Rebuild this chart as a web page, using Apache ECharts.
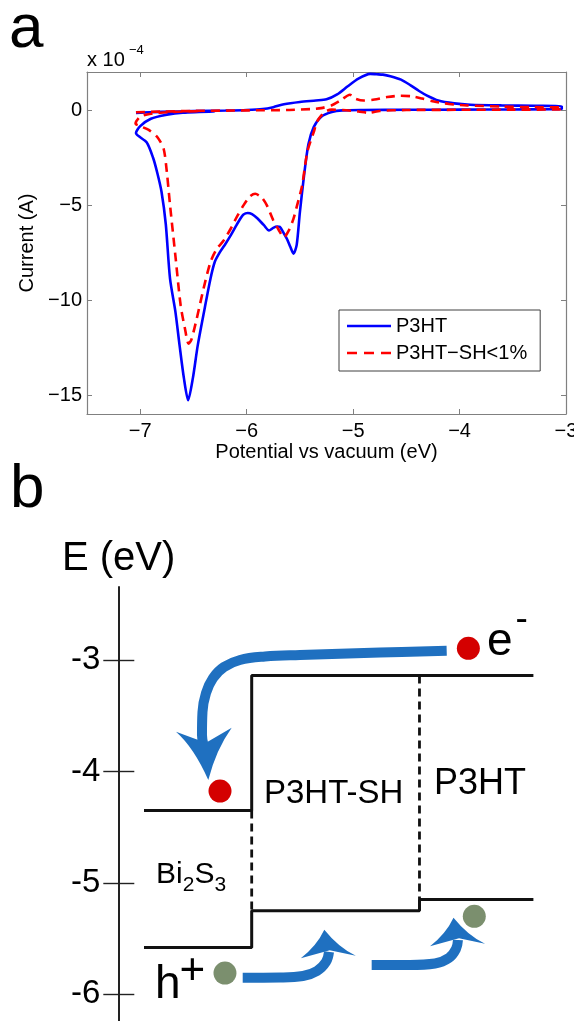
<!DOCTYPE html>
<html>
<head>
<meta charset="utf-8">
<script src="https://cdn.jsdelivr.net/npm/echarts@6/dist/echarts.min.js"></script>
<style>
  html, body { margin: 0; padding: 0; background: #fff; }
  #chart { width: 574px; height: 1021px; }
</style>
</head>
<body>
<div id="chart"></div>
<script>
// ---- panel a: cyclic voltammetry (current in units of 1e-4 A) ----
const p3htCurve = [
    [-7.04, -0.15], [-6.8, -0.1], [-6.5, -0.06], [-6.2, -0.03], [-6.0, 0.0], [-5.85, 0.05],
    [-5.75, 0.15], [-5.65, 0.3], [-5.5, 0.42], [-5.35, 0.5], [-5.25, 0.56], [-5.15, 0.82],
    [-5.05, 1.25], [-4.95, 1.65], [-4.84, 1.9], [-4.78, 1.88], [-4.72, 1.86], [-4.65, 1.78],
    [-4.55, 1.6], [-4.46, 1.3], [-4.38, 1.0], [-4.31, 0.77], [-4.2, 0.5], [-4.05, 0.35],
    [-3.9, 0.28], [-3.6, 0.24], [-3.3, 0.22], [-3.04, 0.2],
    [-3.04, 0.05], [-3.5, 0.03], [-4.0, 0.02], [-4.5, 0.01], [-4.9, 0.0], [-5.1, -0.02],
    [-5.2, -0.1], [-5.3, -0.35], [-5.37, -0.9], [-5.42, -1.8], [-5.46, -3.4], [-5.5, -5.37],
    [-5.53, -7.1], [-5.56, -7.56], [-5.59, -7.2], [-5.62, -6.8], [-5.65, -6.5], [-5.69, -6.15],
    [-5.715, -6.13], [-5.75, -6.2], [-5.79, -6.34], [-5.84, -6.05], [-5.9, -5.7], [-5.95, -5.48],
    [-5.99, -5.42], [-6.03, -5.5], [-6.06, -5.72], [-6.1, -6.1], [-6.15, -6.6], [-6.2, -7.05],
    [-6.25, -7.47], [-6.3, -8.0], [-6.34, -8.88], [-6.4, -10.6], [-6.46, -12.4], [-6.505, -14.1],
    [-6.55, -15.28], [-6.59, -14.1], [-6.63, -12.4], [-6.67, -10.6], [-6.72, -8.88], [-6.76, -6.0],
    [-6.8, -4.3], [-6.84, -3.3], [-6.88, -2.5], [-6.94, -1.7], [-7.04, -1.21],
    [-7.0, -0.85], [-6.9, -0.46], [-6.75, -0.25], [-6.6, -0.14], [-6.3, -0.07]
];
const p3htShCurve = [
    [-7.04, -0.12], [-6.8, -0.08], [-6.5, -0.05], [-6.0, -0.02], [-5.6, 0.0], [-5.4, 0.05],
    [-5.3, 0.1], [-5.2, 0.25], [-5.12, 0.5], [-5.03, 0.8], [-4.98, 0.6], [-4.9, 0.5],
    [-4.8, 0.55], [-4.68, 0.68], [-4.55, 0.75], [-4.45, 0.72], [-4.35, 0.6], [-4.24, 0.45],
    [-4.1, 0.32], [-3.93, 0.24], [-3.6, 0.18], [-3.3, 0.15], [-3.04, 0.14],
    [-3.04, 0.03], [-3.5, 0.02], [-4.0, 0.01], [-4.5, 0.0], [-4.75, -0.05], [-4.85, -0.15],
    [-4.95, -0.08], [-5.1, 0.0], [-5.2, 0.02], [-5.25, -0.05], [-5.3, -0.3], [-5.34, -0.63],
    [-5.37, -1.16], [-5.43, -2.2], [-5.48, -4.0], [-5.53, -5.1], [-5.56, -5.72], [-5.6, -6.3],
    [-5.65, -6.7], [-5.7, -6.3], [-5.75, -5.8], [-5.81, -5.02], [-5.86, -4.6], [-5.92, -4.41],
    [-5.97, -4.55], [-6.03, -5.02], [-6.09, -5.6], [-6.15, -6.25], [-6.22, -6.9], [-6.28, -7.3],
    [-6.34, -8.0], [-6.405, -9.4], [-6.47, -11.0], [-6.52, -12.1], [-6.546, -12.3], [-6.58, -11.5],
    [-6.62, -10.3], [-6.67, -7.65], [-6.72, -5.0], [-6.75, -3.26], [-6.78, -2.04], [-6.84, -1.42],
    [-6.92, -1.05], [-7.0, -0.85], [-7.044, -0.72],
    [-7.0, -0.35], [-6.9, -0.2], [-6.7, -0.1], [-6.4, -0.06]
];
const xTicksA = [-7, -6, -5, -4, -3];
const yTicksA = [-15, -10, -5, 0];

// ---- panel b: energy levels (eV) ----
const levelTicks = [-6, -5, -4, -3];
const layerEdges = [0.62, 3.22, 7.27, 10.02]; // Bi2S3 | P3HT-SH | P3HT
const lumo = [-4.35, -3.14, -3.14];
const homo = [-5.58, -5.25, -5.15];
const electrons = [[8.45, -2.895], [2.455, -4.176]];
const holes = [[2.575, -5.81], [8.593, -5.30]];
const electronArrow = [[7.927, -2.917], [6.317, -2.933], [4.386, -2.955], [3.541, -2.969], [2.937, -3.0],
    [2.551, -3.063], [2.286, -3.162], [2.117, -3.296], [2.032, -3.467], [2.02, -3.673], [2.056, -3.763]];
const holeArrow1 = [[3.003, -5.851], [3.903, -5.849], [4.458, -5.836], [4.796, -5.791], [5.014, -5.71], [5.086, -5.62]];
const holeArrow2 = [[6.116, -5.737], [7.041, -5.737], [7.644, -5.724], [7.982, -5.674], [8.151, -5.594], [8.199, -5.513]];
const arrowHeads = [[2.065, -3.843], [5.069, -5.55], [8.188, -5.441]];

const FONT = '"Liberation Sans", Arial, sans-serif';
const FRAME = '#808080';
const ARROW = '#1f70c0';
const HEAD_DOWN = 'path://M0,4 Q16,10 30,15 Q42,8 55.7,0 Q40,22 32.3,52.3 Q18,20 0,4 Z';
const HEAD_UP = 'path://M23.5,0 Q38,18 55,26 L29,20.5 L0,28.5 Q16,16 23.5,0 Z';
const minus = v => String(v).replace('-', '\u2212');

// 能级折线
const cbPath = [[layerEdges[0], lumo[0]], [layerEdges[1], lumo[0]], [layerEdges[1], lumo[1]],
    [layerEdges[2], lumo[1]], [layerEdges[2], lumo[2]], [layerEdges[3], lumo[2]]];
const vbPath = [[layerEdges[0], homo[0]], [layerEdges[1], homo[0]], [layerEdges[1], homo[1]],
    [layerEdges[2], homo[1]], [layerEdges[2], homo[2]], [layerEdges[3], homo[2]]];
const iface1 = [[layerEdges[1], lumo[0]], [layerEdges[1], homo[1]]];
const iface2 = [[layerEdges[2], lumo[1]], [layerEdges[2], homo[2]]];

function levelLine(data, dashed) {
    return {
        type: 'line', xAxisIndex: 2, yAxisIndex: 2, data: data, symbol: 'none', silent: true,
        lineStyle: { color: '#111', width: dashed ? 2.8 : 3, type: dashed ? [8, 5] : 'solid' }
    };
}

function arrowLine(data) {
    return {
        type: 'line', xAxisIndex: 2, yAxisIndex: 2, data: data,
        symbol: 'none', smooth: 0.4, silent: true, z: 5,
        lineStyle: { color: ARROW, width: 10 }
    };
}

function txt(text, x, y, size) {
    return {
        type: 'text', x: x, y: y, silent: true,
        style: { text: text, fontSize: size, fontFamily: FONT, fill: '#000', align: 'left', verticalAlign: 'middle' }
    };
}

const chart = echarts.init(document.getElementById('chart'));

const frameAxis = {
    axisLine: { show: true, onZero: false, lineStyle: { color: FRAME, width: 1.2 } },
    splitLine: { show: false }
};

const option = {
    animation: false,
    backgroundColor: '#fff',
    grid: [
        { left: 87, top: 72, right: 8, height: 342, outerBoundsMode: 'none', containLabel: false },
        { left: 118.3, top: 587, right: 0, bottom: 0, outerBoundsMode: 'none', containLabel: false }
    ],
    legend: {
        data: [
            { name: 'P3HT', icon: 'path://M0,0H44V2.6H0Z' },
            { name: 'P3HT\u2212SH<1%', icon: 'path://M0,0H10V2.6H0Z M17,0H27V2.6H17Z M34,0H44V2.6H34Z' }
        ],
        orient: 'vertical', left: 339, top: 310,
        itemWidth: 44, itemHeight: 14, itemGap: 7,
        padding: [6, 13, 8, 8],
        borderColor: '#404040', borderWidth: 1, backgroundColor: '#fff',
        selectedMode: false,
        textStyle: { fontSize: 20, fontFamily: FONT, color: '#000', lineHeight: 20 }
    },
    xAxis: [
        Object.assign({
            type: 'value', gridIndex: 0, min: -7.5, max: -3, position: 'bottom',
            name: 'Potential vs vacuum (eV)', nameLocation: 'middle', nameGap: 28,
            nameTextStyle: { fontSize: 20, fontFamily: FONT, color: '#000' },
            axisTick: { show: true, inside: true, length: 5, customValues: xTicksA, lineStyle: { color: FRAME } },
            axisLabel: { customValues: xTicksA, formatter: minus, fontSize: 20, fontFamily: FONT, color: '#000', margin: 7 }
        }, frameAxis),
        Object.assign({
            type: 'value', gridIndex: 0, min: -7.5, max: -3, position: 'top',
            axisTick: { show: true, inside: true, length: 5, customValues: xTicksA, lineStyle: { color: FRAME } },
            axisLabel: { show: false }
        }, frameAxis),
        { type: 'value', gridIndex: 1, min: 0, max: 11, show: false }
    ],
    yAxis: [
        Object.assign({
            type: 'value', gridIndex: 0, min: -16, max: 2, position: 'left',
            name: 'Current (A)', nameLocation: 'middle', nameGap: 48, nameRotate: 90,
            nameTextStyle: { fontSize: 20, fontFamily: FONT, color: '#000' },
            axisTick: { show: true, inside: true, length: 5, customValues: yTicksA, lineStyle: { color: FRAME } },
            axisLabel: { customValues: yTicksA, formatter: minus, fontSize: 20, fontFamily: FONT, color: '#000', margin: 5 }
        }, frameAxis),
        Object.assign({
            type: 'value', gridIndex: 0, min: -16, max: 2, position: 'right',
            axisTick: { show: true, inside: true, length: 5, customValues: yTicksA, lineStyle: { color: FRAME } },
            axisLabel: { show: false }
        }, frameAxis),
        {
            type: 'value', gridIndex: 1, min: -6.24, max: -2.345, position: 'left',
            axisLine: { show: true, onZero: false, lineStyle: { color: '#222', width: 2 } },
            axisTick: { show: true, inside: false, length: 15, customValues: levelTicks, lineStyle: { color: '#222', width: 1.4 } },
            axisLabel: { customValues: levelTicks, fontSize: 33, fontFamily: FONT, color: '#000', margin: 18, padding: [10, 0, 0, 0] },
            splitLine: { show: false }
        },
        {
            type: 'value', gridIndex: 1, min: -6.24, max: -2.345, position: 'left',
            axisLine: { show: false, onZero: false },
            axisTick: { show: true, inside: true, length: 16, customValues: levelTicks, lineStyle: { color: '#222', width: 1.4 } },
            axisLabel: { show: false },
            splitLine: { show: false }
        }
    ],
    series: [
        {
            name: 'P3HT', type: 'line', xAxisIndex: 0, yAxisIndex: 0, data: p3htCurve,
            symbol: 'none', smooth: 0.25, silent: true, color: '#0000ff',
            lineStyle: { color: '#0000ff', width: 2.6 }
        },
        {
            name: 'P3HT\u2212SH<1%', type: 'line', xAxisIndex: 0, yAxisIndex: 0, data: p3htShCurve,
            symbol: 'none', smooth: 0.25, silent: true, color: '#ff0000',
            lineStyle: { color: '#ff0000', width: 2.6, type: [9, 6] }
        },
        levelLine(cbPath, false),
        levelLine(vbPath, false),
        levelLine(iface1, true),
        levelLine(iface2, true),
        arrowLine(electronArrow),
        arrowLine(holeArrow1),
        arrowLine(holeArrow2),
        {
            type: 'scatter', xAxisIndex: 2, yAxisIndex: 2, silent: true, z: 6,
            itemStyle: { color: ARROW, opacity: 1 },
            data: [
                { value: arrowHeads[0], symbol: HEAD_DOWN, symbolSize: [55.7, 52.3] },
                { value: arrowHeads[1], symbol: HEAD_UP, symbolSize: [55, 28.5] },
                { value: arrowHeads[2], symbol: HEAD_UP, symbolSize: [55, 28.5] }
            ]
        },
        {
            type: 'scatter', xAxisIndex: 2, yAxisIndex: 2, data: electrons, symbolSize: 23, silent: true, z: 7,
            itemStyle: { color: '#d40000', opacity: 1 }
        },
        {
            type: 'scatter', xAxisIndex: 2, yAxisIndex: 2, data: holes, symbolSize: 23, silent: true, z: 7,
            itemStyle: { color: '#7b8f6e', opacity: 1 }
        }
    ],
    graphic: [
        txt('a', 9, 30, 62),
        txt('x 10', 87, 60, 20),
        txt('\u22124', 129, 50.5, 13),
        txt('b', 10, 489.5, 62),
        txt('E (eV)', 62, 559, 40),
        txt('P3HT-SH', 264, 794.2, 33),
        txt('P3HT', 434, 783.6, 36),
        txt('Bi', 156, 874.3, 30),
        txt('2', 182.7, 884.8, 21),
        txt('S', 194.4, 874.3, 30),
        txt('3', 214.4, 884.8, 21),
        txt('e', 487, 642, 46),
        txt('-', 515.4, 620, 37),
        txt('h', 155, 985.8, 46),
        txt('+', 179.5, 971.7, 44)
    ]
};

chart.setOption(option);
</script>
</body>
</html>
